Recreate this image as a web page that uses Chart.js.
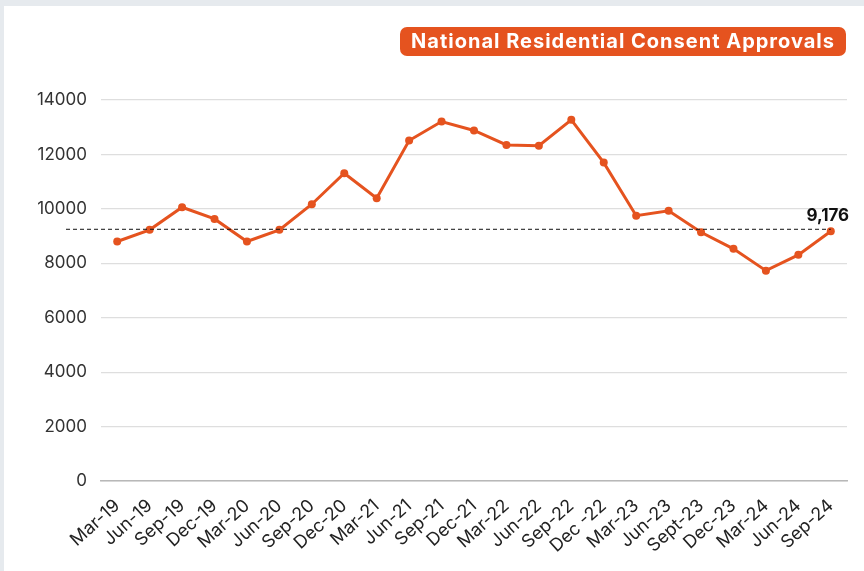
<!DOCTYPE html>
<html>
<head>
<meta charset="utf-8">
<script src="https://cdn.jsdelivr.net/npm/chart.js@4/dist/chart.umd.min.js"></script>
<style>
    html, body { margin: 0; padding: 0; }
    body { width: 864px; height: 571px; background: #e6eaee; position: relative; overflow: hidden; }
    #card { position: absolute; left: 4px; top: 6px; width: 860px; height: 565px; background: #fff; }
    #chart { position: absolute; left: 0; top: 0; }
    #title {
        position: absolute; left: 400px; top: 27px; width: 446px; height: 29px;
        background: #e5531f; color: #fff; border-radius: 7px;
        font: 700 20px "Inter", sans-serif; letter-spacing: 1px; line-height: 29px; text-align: center;
    }
</style>
</head>
<body>
<div id="card"></div>
<canvas id="chart" width="864" height="571"></canvas>
<div id="title">National Residential Consent Approvals</div>
<script>
const quarters = ['Mar-19', 'Jun-19', 'Sep-19', 'Dec-19', 'Mar-20', 'Jun-20', 'Sep-20', 'Dec-20',
    'Mar-21', 'Jun-21', 'Sep-21', 'Dec-21', 'Mar-22', 'Jun-22', 'Sep-22', 'Dec -22',
    'Mar-23', 'Jun-23', 'Sept-23', 'Dec-23', 'Mar-24', 'Jun-24', 'Sep-24'];
const approvals = [8800, 9230, 10060, 9630, 8800, 9230, 10170, 11310,
    10390, 12510, 13210, 12880, 12350, 12320, 13270, 11700,
    9750, 9930, 9140, 8530, 7730, 8310, 9176];
const latestValue = 9176;
const yTicks = [0, 2000, 4000, 6000, 8000, 10000, 12000, 14000];

const orange = '#e5531f';

// dashed reference line at the latest value + its label
const refLine = {
    id: 'refLine',
    afterDatasetsDraw(chart) {
        const ctx = chart.ctx;
        const y = chart.scales.y.getPixelForValue(latestValue);
        const pt = chart.getDatasetMeta(0).data[approvals.length - 1];
        ctx.save();
        ctx.strokeStyle = '#111';
        ctx.lineWidth = 1;
        ctx.setLineDash([4, 3]);
        ctx.beginPath();
        ctx.moveTo(66, y - 2);
        ctx.lineTo(pt.x, y - 2);
        ctx.stroke();
        ctx.setLineDash([]);
        ctx.fillStyle = '#111';
        ctx.font = '700 17px Inter, sans-serif';
        ctx.textAlign = 'center';
        ctx.textBaseline = 'alphabetic';
        ctx.fillText(latestValue.toLocaleString('en-US'), pt.x - 3, pt.y - 10);
        ctx.restore();
    }
};

new Chart(document.getElementById('chart').getContext('2d'), {
    type: 'line',
    data: {
        labels: quarters,
        datasets: [{
            label: 'Approvals',
            data: approvals,
            borderColor: orange,
            backgroundColor: orange,
            borderWidth: 3,
            pointRadius: 4,
            pointBackgroundColor: orange,
            pointBorderWidth: 0,
            tension: 0,
            fill: false
        }]
    },
    options: {
        responsive: false,
        animation: false,
        layout: { padding: { left: 0, right: 17, top: 100, bottom: 0 } },
        plugins: { legend: { display: false }, tooltip: { enabled: false } },
        scales: {
            x: {
                offset: true,
                grid: { display: false },
                border: { color: '#b8b8b8', width: 1.5 },
                ticks: {
                    autoSkip: false,
                    minRotation: 42,
                    maxRotation: 42,
                    padding: 6,
                    color: '#222',
                    font: { family: 'Inter', size: 18 }
                },
                afterFit(scale) { scale.height = 90; }
            },
            y: {
                min: 0,
                max: 14000,
                afterBuildTicks(scale) { scale.ticks = yTicks.map(v => ({ value: v })); },
                grid: { color: '#dedede', lineWidth: 1.2, drawTicks: false },
                border: { display: false },
                ticks: {
                    padding: 14,
                    color: '#333',
                    font: { family: 'Inter', size: 17 },
                    callback: v => String(v)
                },
                afterFit(scale) { scale.width = 101; }
            }
        }
    },
    plugins: [refLine]
});
</script>
</body>
</html>
